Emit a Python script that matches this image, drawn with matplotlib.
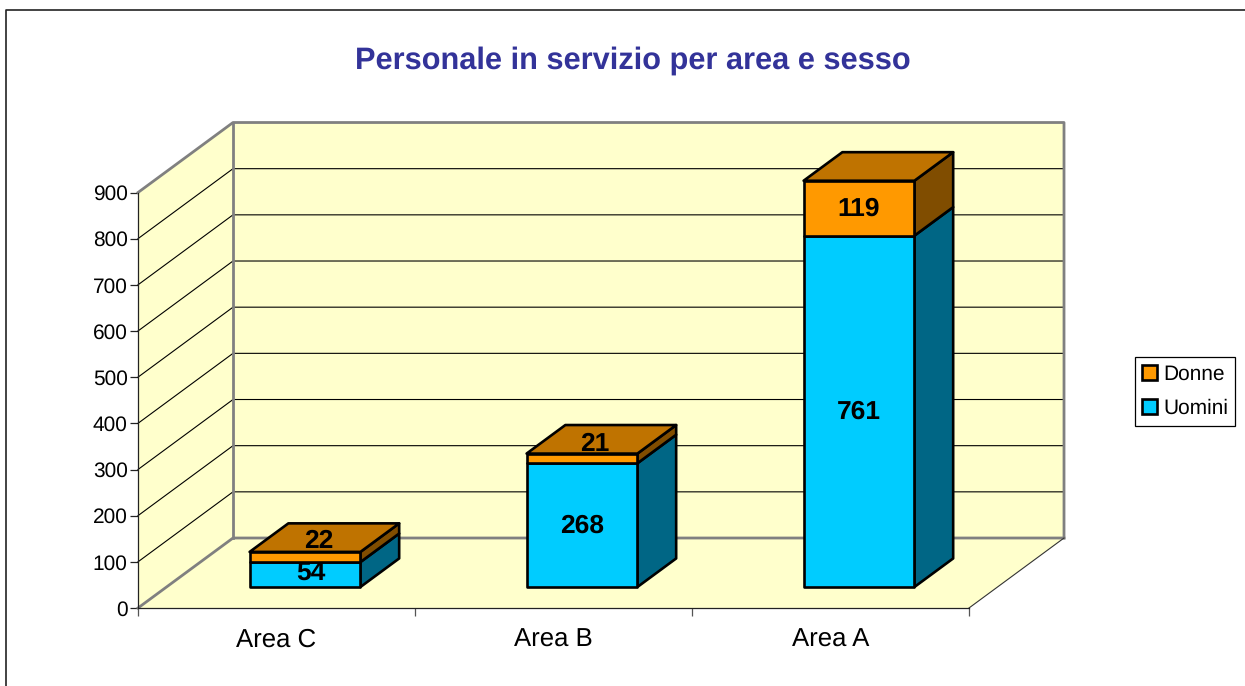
#!/usr/bin/env python

import matplotlib
matplotlib.use('Agg')
from matplotlib import pyplot
from matplotlib.lines import Line2D
from matplotlib.patches import Patch, Polygon

pyplot.rcParams['font.family'] = ['Liberation Sans', 'DejaVu Sans']
pyplot.rcParams['text.hinting'] = 'none'

TITLE = 'Personale in servizio per area e sesso'
AREAS = ['Area C', 'Area B', 'Area A']
UOMINI = [54, 268, 761]
DONNE = [22, 21, 119]
Y_TICKS = [0, 100, 200, 300, 400, 500, 600, 700, 800, 900]

W, H = 1245, 686
# depth of the fake 3d box, in category / value units
DX = 0.343
DY = 151.6
BAR_W = 0.4
Z0, Z1 = 0.3, 0.708
GREY = '#808080'
WALL = '#FFFFCC'
COL_U = ('#00CCFF', '#006685')
COL_D = ('#FF9900', '#BF7300', '#804D00')


def shift(x, y, z):
    return x + z * DX, y + z * DY


def face(ax, pts, color, zorder):
    ax.add_patch(Polygon(pts, closed=True, facecolor=color, edgecolor='k', linewidth=1.9,
                         joinstyle='round', clip_on=False, zorder=zorder))


def draw_walls(ax, nx, ymax):
    left = [(0, 0), (0, ymax), shift(0, ymax, 1), shift(0, 0, 1)]
    back = [shift(0, 0, 1), shift(0, ymax, 1), shift(nx, ymax, 1), shift(nx, 0, 1)]
    floor = [(0, 0), (nx, 0), shift(nx, 0, 1), shift(0, 0, 1)]
    for pts in [left, back, floor]:
        ax.add_patch(Polygon(pts, closed=True, facecolor=WALL, edgecolor='none', clip_on=False, zorder=1))

    for v in Y_TICKS[1:-1]:
        xb, yb = shift(0, v, 1)
        xe, _ = shift(nx, v, 1)
        ax.plot([0, xb, xe], [v, yb, yb], color='k', lw=0.8, clip_on=False, zorder=2)

    # heavy grey outline of the walls
    xb, yb = shift(0, 0, 1)
    xt, yt = shift(0, ymax, 1)
    xe, _ = shift(nx, 0, 1)
    ax.plot([0, xb, xe], [0, yb, yb], color=GREY, lw=2.0, clip_on=False, zorder=3)
    ax.plot([0, xt, xe, xe], [ymax, yt, yt, yb], color=GREY, lw=2.0, clip_on=False, zorder=3)
    ax.plot([xb, xt], [yb, yt], color=GREY, lw=2.0, clip_on=False, zorder=3)
    ax.plot([nx, xe], [0, yb], color='#333333', lw=0.8, clip_on=False, zorder=3)


def draw_bar(ax, i, low, high, colors, zorder):
    x0 = i + 0.5 - BAR_W / 2
    x1 = i + 0.5 + BAR_W / 2
    front = [shift(x0, low, Z0), shift(x1, low, Z0), shift(x1, high, Z0), shift(x0, high, Z0)]
    side = [shift(x1, low, Z0), shift(x1, low, Z1), shift(x1, high, Z1), shift(x1, high, Z0)]
    top = [shift(x0, high, Z0), shift(x1, high, Z0), shift(x1, high, Z1), shift(x0, high, Z1)]
    face(ax, side, colors[-1], zorder)
    if len(colors) == 3:
        face(ax, top, colors[1], zorder)
    face(ax, front, colors[0], zorder)


def label(ax, i, low, high, text, off=(0, 0)):
    x, y = shift(i + 0.5, (low + high) / 2, Z0)
    ax.annotate(str(text), xy=(x, y), xytext=(off[0] * 0.72, off[1] * 0.72), textcoords='offset points',
                ha='center', va='center', fontsize=19, fontweight='bold', color='k',
                annotation_clip=False, zorder=20)


def main():
    fig = pyplot.figure(figsize=(W / 100, H / 100), dpi=100, facecolor='white')
    ax = fig.add_axes([138 / W, (H - 608) / H, 831 / W, 415.5 / H])
    ax.patch.set_visible(False)
    ax.set_xlim(0, len(AREAS))
    ax.set_ylim(0, Y_TICKS[-1])

    draw_walls(ax, len(AREAS), Y_TICKS[-1])

    for i in range(len(AREAS)):
        u, d = UOMINI[i], DONNE[i]
        draw_bar(ax, i, 0, u, COL_U, 5)
        draw_bar(ax, i, u, u + d, COL_D, 6)

    # small segments: labels were pushed off centre in the original
    offsets = [((6, 1), (14, 16)), ((0, -1), (13, 14)), ((0, -1), (0, -1))]
    for i in range(len(AREAS)):
        u, d = UOMINI[i], DONNE[i]
        label(ax, i, 0, u, u, offsets[i][0])
        label(ax, i, u, u + d, d, offsets[i][1])

    for s in ['top', 'right']:
        ax.spines[s].set_visible(False)
    for s in ['left', 'bottom']:
        ax.spines[s].set_linewidth(0.9)
        ax.spines[s].set_color('#222222')
        ax.spines[s].set_zorder(4)

    ax.set_yticks(Y_TICKS)
    ax.tick_params(axis='y', labelsize=15, length=5.5, width=0.9, pad=2, color='#222222')
    ax.set_xticks(range(len(AREAS) + 1))
    ax.set_xticklabels([])
    ax.tick_params(axis='x', which='major', length=5.5, width=0.9, color='#555555')
    ax.set_xticks([i + 0.5 for i in range(len(AREAS))], minor=True)
    ax.set_xticklabels(AREAS, minor=True)
    ax.tick_params(axis='x', which='minor', labelsize=18.5, length=0, pad=14)

    fig.text(632.5 / W, 1 - 61 / H, TITLE, ha='center', va='center', fontsize=22.15,
             fontweight='bold', color='#333399')

    handles = [Patch(facecolor=COL_D[0], edgecolor='k', linewidth=1.9),
               Patch(facecolor=COL_U[0], edgecolor='k', linewidth=1.9)]
    leg = fig.legend(handles, ['Donne', 'Uomini'], loc='upper left',
                     bbox_to_anchor=(1135 / W, 1 - 357 / H), fontsize=15, fancybox=False,
                     framealpha=1, edgecolor='k', borderpad=0.35, labelspacing=0.71,
                     handlelength=0.72, handleheight=0.72, handletextpad=0.27, borderaxespad=0)
    leg.get_frame().set_linewidth(0.9)

    # outer frame, only left and top edges are inside the crop
    fig.add_artist(Line2D([6 / W, 6 / W, 1], [0, 1 - 10 / H, 1 - 10 / H], color='#222222', lw=1.2))

    fig.savefig('out.png', dpi=100)
    pyplot.close(fig)


if __name__ == "__main__":
    main()
